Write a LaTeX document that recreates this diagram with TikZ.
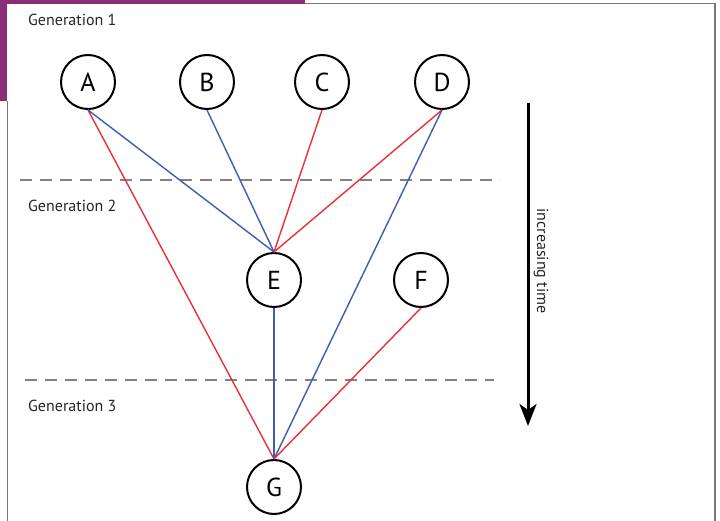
\documentclass[tikz,border=0pt]{standalone}
\usepackage{fontspec}
\setmainfont{PT Sans}
\usetikzlibrary{arrows.meta}
\definecolor{purp}{RGB}{140,45,120}
\definecolor{edgeblue}{RGB}{64,92,176}
\definecolor{edgered}{RGB}{232,48,58}
\definecolor{framegray}{RGB}{120,120,120}
\definecolor{sepgray}{RGB}{130,130,130}
\tikzset{
  gen/.style={circle,draw=black,line width=2pt,minimum size=54pt,inner sep=0pt,font=\fontsize{26}{26}\selectfont},
  genlabel/.style={anchor=west,inner sep=0pt,font=\fontsize{16}{17}\selectfont,text=black!85},
  sepline/.style={draw=sepgray,line width=1.6pt,dash pattern=on 12pt off 8pt},
  bl/.style={draw=edgeblue,line width=1.4pt},
  rd/.style={draw=edgered,line width=1.4pt}
}
\begin{document}
\begin{tikzpicture}[x=1pt,y=-1pt]
\useasboundingbox (0,0) rectangle (720,521);
\fill[white] (0,0) rectangle (720,521);
% frame
\fill[purp] (0,0) rectangle (305,4);
\fill[purp] (0,0) rectangle (7,101);
\draw[framegray,line width=1.5pt] (305,3.5) -- (715,3.5) -- (715,521);
\draw[framegray,line width=1.5pt] (7.5,101) -- (7.5,521);
% labels
\node[genlabel] (g1) at (28,20) {Generation 1};
\node[genlabel] (g2) at (28,206) {Generation 2};
\node[genlabel] (g3) at (28,406) {Generation 3};
% separators
\coordinate (s1a) at (20,180);
\coordinate (s1b) at (500,180);
\coordinate (s2a) at (25,380);
\coordinate (s2b) at (494,380);
\draw[sepline] (s1a) -- (s1b);
\draw[sepline] (s2a) -- (s2b);
% nodes
\node[gen] (A) at (88,82) {A};
\node[gen] (B) at (207,82) {B};
\node[gen] (C) at (322,82) {C};
\node[gen] (D) at (442,82) {D};
\node[gen] (E) at (274,280) {E};
\node[gen] (F) at (421,280) {F};
\node[gen] (G) at (274,487) {G};
% edges
\draw[rd] (A.south) -- (G.north);
\draw[bl] (A.south) -- (E.north);
\draw[bl] (B.south) -- (E.north);
\draw[rd] (C.south) -- (E.north);
\draw[rd] (D.south) -- (E.north);
\draw[bl] (D.south) -- (G.north);
\draw[bl] (E.south) -- (G.north);
\draw[rd] (F.south) -- (G.north);
% time arrow
\coordinate (t1) at (528,103);
\coordinate (t2) at (528,426);
\draw[line width=3pt,-{Stealth[length=22pt,width=17pt,inset=6pt]}] (t1) -- (t2);
\node[rotate=-90,inner sep=0pt,font=\fontsize{16}{17}\selectfont,text=black!85] (tl) at (541,261) {increasing time};
\end{tikzpicture}
\end{document}
